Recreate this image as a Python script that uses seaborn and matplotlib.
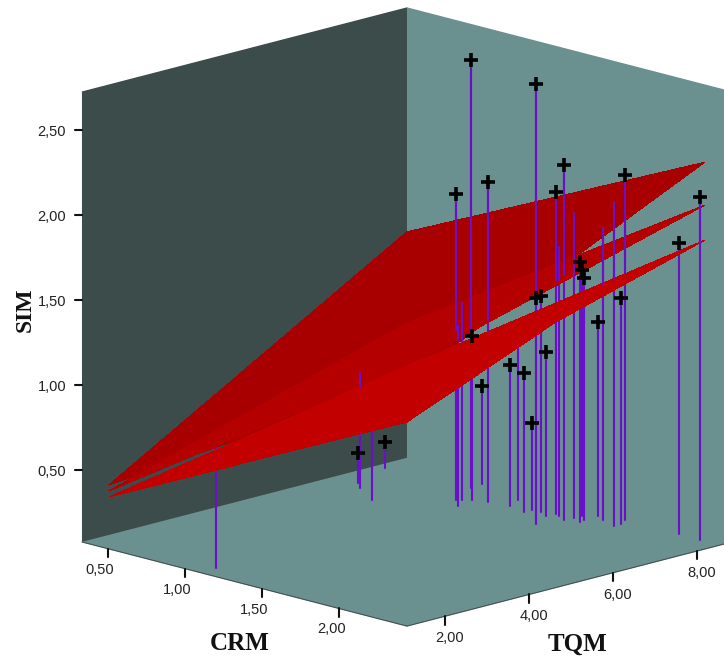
import numpy as np
import seaborn as sns
from matplotlib import pyplot as plt
from mpl_toolkits.mplot3d import proj3d

sns.set_theme(style="white", font="Liberation Sans")

# fitted sheets (rows crm_edges, columns tqm_edges)
crm_edges = [0.418, 2.352]
tqm_edges = [1.416, 4.963, 8.51]
sheet_upper = [[0.411, 0.929, 1.447], [1.482, 1.897, 2.311]]
sheet_fit = [[0.376, 0.644, 0.911], [1.564, 1.811, 2.058]]
sheet_lower = [[0.341, 0.497, 0.658], [1.235, 1.597, 1.852]]

# observations
crm = [1.091, 0.485, 0.554, 0.744, 0.385, 1.016, 1.098, 1.037, 0.914, 1.069, 0.90, 1.145,
       1.267, 1.218, 1.389, 1.389, 1.579, 1.442, 1.51, 1.528, 1.516, 1.55, 1.619, 1.626,
       1.695, 1.628, 1.683, 1.678, 1.744, 1.858, 1.853, 1.815, 2.168, 2.311]
tqm = [1.486, 7.10, 6.89, 6.48, 8.12, 7.48, 7.23, 7.56, 8.22, 7.67, 8.53, 7.77,
       7.85, 8.22, 7.74, 7.93, 7.33, 7.94, 7.82, 7.52, 8.03, 7.97, 7.85, 8.06,
       7.95, 8.25, 8.08, 8.44, 8.31, 8.17, 8.34, 8.57, 8.57, 8.55]
sim = [0.829, 0.252, 0.752, 0.605, 0.229, 1.876, 1.135, 1.235, 2.594, 1.041, 0.652, 1.958,
       0.905, 1.088, 0.894, 0.588, 2.664, 1.347, 1.041, 1.382, 1.970, 1.658, 2.164, 1.87,
       1.605, 1.523, 1.50, 1.217, 1.794, 1.982, 1.405, 2.105, 1.788, 2.094]
# height where the drop line goes into the sheets (nan = stays under them)
sim_cross = [np.nan, np.nan, 0.670, np.nan, np.nan, 1.076, 1.05, 1.017, 1.005, 1.041, np.nan, 1.147,
             np.nan, np.nan, np.nan, np.nan, 1.452, 1.347, np.nan, 1.382, 1.452, 1.464, 1.517, 1.417,
             1.605, 1.523, 1.50, np.nan, 1.458, 1.529, np.nan, 1.529, 1.747, 1.811]
has_marker = [0, 1, 0, 0, 1, 1, 0, 0, 1, 1, 1, 1,
              1, 0, 1, 1, 1, 1, 1, 1, 1, 0, 1, 0,
              1, 1, 1, 1, 0, 0, 1, 1, 1, 1]

crm_ticks = [0.5, 1.0, 1.5, 2.0]
tqm_ticks = [2.0, 4.0, 6.0, 8.0]
sim_ticks = [0.5, 1.0, 1.5, 2.0, 2.5]

crm_lim = (0.33, 2.44)
tqm_lim = (1.095, 8.835)
sim_lim = (0.076, 2.723)

dark_wall, light_wall = sns.color_palette(["#3c4c4b", "#6b9090"])
sheet_colors = sns.color_palette(["#a80000", "#b50000", "#c30000"])
stem_color = "#6a10c8"

fig = plt.figure(figsize=(7.24, 6.64), dpi=100)
ax = fig.add_axes([66 / 724, 6 / 664, 664 / 724, 1.0], projection="3d",
                  proj_type="ortho", computed_zorder=False)
ax.view_init(elev=15, azim=-45)
ax.set_box_aspect((1, 1, 1.013), zoom=1.169)
ax.set_xlim(*crm_lim, view_margin=0)
ax.set_ylim(*tqm_lim, view_margin=0)
ax.set_zlim(*sim_lim, view_margin=0)
ax.grid(False)
ax.set_xticks([])
ax.set_yticks([])
ax.set_zticks([])

ax.xaxis.set_pane_color(dark_wall + (1,))
ax.yaxis.set_pane_color(light_wall + (1,))
ax.zaxis.set_pane_color(light_wall + (1,))
for axis in [ax.xaxis, ax.yaxis, ax.zaxis]:
    axis.line.set_linewidth(0.6)
    axis.line.set_color("#444444")


def tick_label(x, y, z, v, dx, dy):
    # 2d label at a pixel offset from a 3d point
    px, py, _ = proj3d.proj_transform(x, y, z, ax.get_proj())
    ax.annotate(f"{v:.2f}".replace(".", ","), xy=(px, py), xytext=(dx, dy), textcoords="offset pixels",
                fontsize=10.5, ha="center", va="center", color="#222222", annotation_clip=False, zorder=8)


# drop lines, lower part is covered by the sheets
for c, t, s in zip(crm, tqm, sim):
    ax.plot([c, c], [t, t], [sim_lim[0], s], color=stem_color, lw=1.5, zorder=1)

behind = [i for i in range(len(crm)) if has_marker[i] and np.isnan(sim_cross[i])]
ax.scatter([crm[i] for i in behind], [tqm[i] for i in behind], [sim[i] for i in behind],
           marker="+", s=90, c="black", linewidths=2.6, depthshade=False, zorder=1.5)

# antialiasing leaves pale seams between the quads
cc, tt = np.meshgrid(crm_edges, tqm_edges, indexing="ij")
for z, (sheet, col) in enumerate(zip([sheet_upper, sheet_fit, sheet_lower], sheet_colors)):
    ax.plot_surface(cc, tt, np.array(sheet), color=col, shade=False, linewidth=0,
                    antialiased=False, zorder=2 + z)

for c, t, s, sc in zip(crm, tqm, sim, sim_cross):
    if not np.isnan(sc):
        ax.plot([c, c], [t, t], [sc, s], color=stem_color, lw=1.5, zorder=6)

front = [i for i in range(len(crm)) if has_marker[i] and not np.isnan(sim_cross[i])]
ax.scatter([crm[i] for i in front], [tqm[i] for i in front], [sim[i] for i in front],
           marker="+", s=90, c="black", linewidths=2.6, depthshade=False, zorder=7)

# the ticks hang straight down from the floor edges, 3d axis ticks can't do that
crm_span = crm_lim[1] - crm_lim[0]
tqm_span = tqm_lim[1] - tqm_lim[0]
for v in crm_ticks:
    ax.plot([v, v], [tqm_lim[0]] * 2, [sim_lim[0], sim_lim[0] - 0.05], color="#111111", lw=1.5, zorder=8)
    tick_label(v, tqm_lim[0], sim_lim[0], v, -8, -21)
for v in tqm_ticks:
    ax.plot([crm_lim[1]] * 2, [v, v], [sim_lim[0], sim_lim[0] - 0.05], color="#111111", lw=1.5, zorder=8)
    tick_label(crm_lim[1], v, sim_lim[0], v, 5, -22)
for v in sim_ticks:
    ax.plot([crm_lim[0], crm_lim[0] - 0.011 * crm_span], [tqm_lim[0], tqm_lim[0] - 0.011 * tqm_span],
            [v, v], color="#111111", lw=1.5, zorder=8)
    tick_label(crm_lim[0], tqm_lim[0], v, v, -30, -2)

fig.text(240 / 724, 1 - 644 / 664, "CRM", family="Liberation Serif", weight="bold",
         fontsize=18, ha="center", va="center", color="#111111")
fig.text(578 / 724, 1 - 644 / 664, "TQM", family="Liberation Serif", weight="bold",
         fontsize=18, ha="center", va="center", color="#111111")
fig.text(25 / 724, 1 - 310 / 664, "SIM", family="Liberation Serif", weight="bold",
         fontsize=17, ha="center", va="center", rotation=90, color="#111111")

fig.savefig("out.png", dpi=100)
